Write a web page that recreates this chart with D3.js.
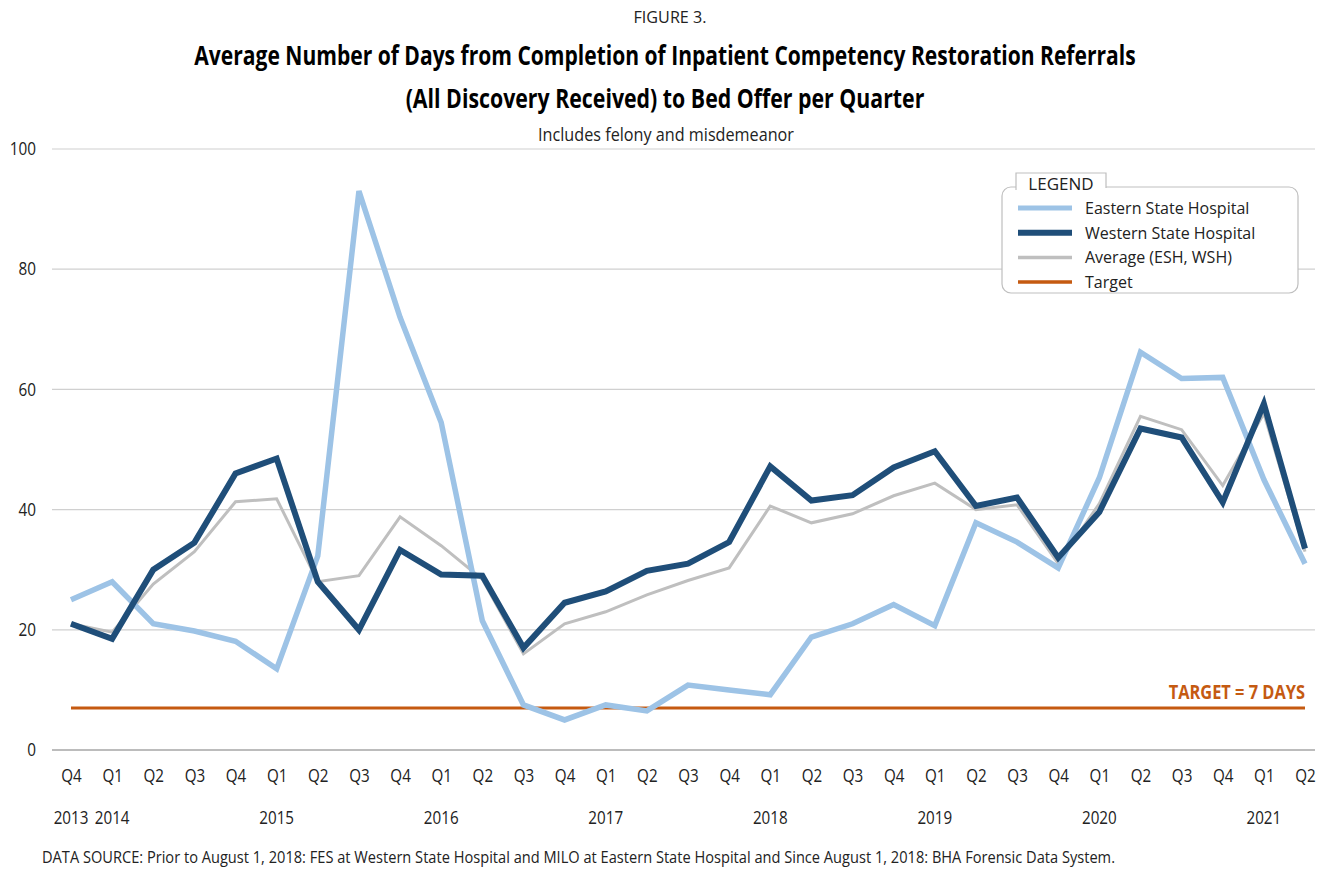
<!DOCTYPE html>
<html>
<head>
<meta charset="utf-8">
<script src="https://cdn.jsdelivr.net/npm/d3@7"></script>
<style>
  body { margin: 0; background: #fff; }
  svg text { font-family: "Open Sans", sans-serif; fill: #222; }
</style>
</head>
<body>
<div id="chart"></div>
<script>
// quarters from Q4 2013 to Q2 2021
const quarters = ["Q4","Q1","Q2","Q3","Q4","Q1","Q2","Q3","Q4","Q1","Q2","Q3","Q4","Q1","Q2","Q3",
                  "Q4","Q1","Q2","Q3","Q4","Q1","Q2","Q3","Q4","Q1","Q2","Q3","Q4","Q1","Q2"];
const years = ["2013","2014","","","","2015","","","","2016","","","","2017","","",
               "","2018","","","","2019","","","","2020","","","","2021",""];

const eastern = [25, 28, 21, 19.8, 18.1, 13.5, 32.3, 93, 72, 54.5, 21.5, 7.5, 5, 7.5, 6.5, 10.8,
                 10, 9.2, 18.8, 21, 24.2, 20.7, 37.8, 34.6, 30.3, 45.3, 66.2, 61.8, 62, 45, 31];
const western = [21, 18.5, 30, 34.5, 46, 48.5, 28, 20, 33.3, 29.2, 29, 17, 24.5, 26.4, 29.8, 31,
                 34.6, 47.2, 41.5, 42.4, 47, 49.7, 40.6, 42, 32, 39.6, 53.5, 52, 41.2, 57.6, 33.5];
const average = [21, 19.6, 27.6, 33, 41.3, 41.8, 28, 29, 38.8, 34, 28.4, 16, 21, 23, 25.8, 28.2,
                 30.3, 40.6, 37.8, 39.3, 42.3, 44.4, 40, 40.8, 31, 41, 55.5, 53.3, 44, 56, 33];
const target = 7;
const yTicks = [0, 20, 40, 60, 80, 100];

const width = 1330, height = 871;
const margin = { top: 149, bottom: 121, left: 71, right: 25 };
const narrow = 'scale(0.8,1)';

const svg = d3.select('#chart')
    .append('svg')
    .attr('width', width)
    .attr('height', height);

const x = d3.scalePoint()
    .domain(d3.range(quarters.length))
    .range([margin.left, width - margin.right]);

const y = d3.scaleLinear()
    .domain([0, 100])
    .range([height - margin.bottom, margin.top]);

// titles (condensed by a horizontal scale around their anchor)
let addText = (txt, cx, cy, size, weight, sx, anchor) => {
    svg.append('g')
        .attr('transform', `translate(${cx},${cy}) scale(${sx},1)`)
        .append('text')
        .attr('text-anchor', anchor || 'middle')
        .style('font-size', size + 'px')
        .style('font-weight', weight)
        .style('fill', weight === 'bold' ? '#000' : '#222')
        .text(txt);
};
addText('FIGURE 3.', 670, 23, 17, 'normal', 0.95);
addText('Average Number of Days from Completion of Inpatient Competency Restoration Referrals', 665, 65, 26, 'bold', 0.81);
addText('(All Discovery Received) to Bed Offer per Quarter', 665, 108, 26, 'bold', 0.82);
addText('Includes felony and misdemeanor', 666, 141, 18, 'normal', 0.9);

// gridlines
svg.append('g')
    .selectAll('line')
    .data(yTicks)
    .join('line')
    .attr('x1', 52).attr('x2', 1315)
    .attr('y1', d => y(d)).attr('y2', d => y(d))
    .attr('stroke', d => d === 0 ? '#a6a6a6' : '#d0d0d0')
    .attr('stroke-width', d => d === 0 ? 1.5 : 1.2);

// y axis labels
function yAxis(g) {
    g.attr('transform', 'translate(36,0)')
     .call(d3.axisLeft(y).tickValues(yTicks).tickSize(0).tickPadding(0))
     .call(g => g.select('.domain').remove())
     .attr('font-family', null)
     .attr('font-size', '18px');
    g.selectAll('text').attr('transform', 'scale(0.85,1)');
}
svg.append('g').call(yAxis);

// x axis labels (quarter row and year row)
function xAxis(g) {
    g.attr('transform', `translate(0,${y(0) + 19})`)
     .call(d3.axisBottom(x).tickFormat(i => quarters[i]).tickSize(0).tickPadding(0))
     .call(g => g.select('.domain').remove())
     .attr('font-family', null)
     .attr('font-size', '19px');
    g.selectAll('text').attr('transform', narrow);
}
svg.append('g').call(xAxis);

svg.append('g')
    .selectAll('g')
    .data(years)
    .join('g')
    .attr('transform', (d, i) => `translate(${x(i)},${y(0) + 74}) ${narrow}`)
    .append('text')
    .attr('text-anchor', 'middle')
    .style('font-size', '19px')
    .text(d => d);

// target line
svg.append('line')
    .attr('x1', x(0)).attr('x2', x(quarters.length - 1))
    .attr('y1', y(target)).attr('y2', y(target))
    .attr('stroke', '#C55A11').attr('stroke-width', 3);
svg.append('g')
    .attr('transform', `translate(${x(quarters.length - 1)},${y(target) - 9}) scale(0.82,1)`)
    .append('text')
    .attr('text-anchor', 'end')
    .style('font-size', '20px').style('font-weight', 'bold').style('fill', '#C55A11')
    .text('TARGET = 7 DAYS');

// series
const line = d3.line()
    .x((d, i) => x(i))
    .y(d => y(d));

const series = [
    { name: 'Average (ESH, WSH)', values: average, color: '#BFBFBF', w: 3 },
    { name: 'Eastern State Hospital', values: eastern, color: '#9DC3E6', w: 5.5 },
    { name: 'Western State Hospital', values: western, color: '#1F4E79', w: 6 }
];

svg.append('g')
    .selectAll('path')
    .data(series)
    .join('path')
    .attr('d', d => line(d.values))
    .attr('fill', 'none')
    .attr('stroke', d => d.color)
    .attr('stroke-width', d => d.w)
    .attr('stroke-linejoin', 'miter');

// legend
const legendItems = [
    { name: 'Eastern State Hospital', color: '#9DC3E6', w: 5 },
    { name: 'Western State Hospital', color: '#1F4E79', w: 6 },
    { name: 'Average (ESH, WSH)', color: '#BFBFBF', w: 3.5 },
    { name: 'Target', color: '#C55A11', w: 3.5 }
];
const legend = svg.append('g');
legend.append('rect')
    .attr('x', 1002).attr('y', 187).attr('width', 296).attr('height', 106)
    .attr('rx', 9).attr('fill', '#fff').attr('stroke', '#bfbfbf').attr('stroke-width', 1.2);
legend.append('path')
    .attr('d', 'M1016,190 L1016,173 L1106,173 L1106,188')
    .attr('fill', '#fff').attr('stroke', '#bfbfbf').attr('stroke-width', 1.2);
legend.append('rect')
    .attr('x', 1017).attr('y', 174).attr('width', 88).attr('height', 16).attr('fill', '#fff');
legend.append('text')
    .attr('x', 1061).attr('y', 190).attr('text-anchor', 'middle')
    .style('font-size', '17px').text('LEGEND');

const rows = legend.selectAll('g.row')
    .data(legendItems)
    .join('g')
    .attr('class', 'row')
    .attr('transform', (d, i) => `translate(0,${208 + i * 24.7})`);
rows.append('line')
    .attr('x1', 1018).attr('x2', 1072)
    .attr('stroke', d => d.color).attr('stroke-width', d => d.w);
rows.append('text')
    .attr('x', 1085).attr('y', 6)
    .style('font-size', '16px')
    .text(d => d.name);

// source
addText('DATA SOURCE: Prior to August 1, 2018: FES at Western State Hospital and MILO at Eastern State Hospital and Since August 1, 2018: BHA Forensic Data System.',
    42, 863, 17, 'normal', 0.86, 'start');
</script>
</body>
</html>
